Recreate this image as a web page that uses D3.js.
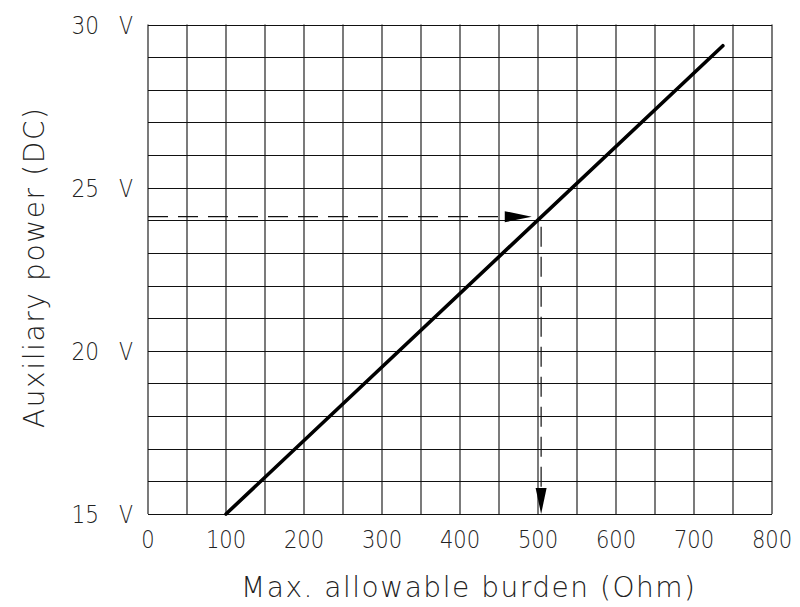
<!DOCTYPE html>
<html>
<head>
<meta charset="utf-8">
<script src="https://cdn.jsdelivr.net/npm/d3@7"></script>
<style>
  html, body { margin: 0; padding: 0; background: #fff; }
  text { font-family: "DejaVu Sans", sans-serif; font-weight: 200; fill: #222; }
</style>
</head>
<body>
<svg id="chart" width="800" height="607"></svg>
<script>
// ---- data ----
const xTicks = [0, 100, 200, 300, 400, 500, 600, 700, 800];
const xGrid = [0, 50, 100, 150, 200, 250, 300, 350, 400, 450, 500, 550, 600, 650, 700, 750, 800];
const yTicks = [15, 20, 25, 30];
const yGrid = [15, 16, 17, 18, 19, 20, 21, 22, 23, 24, 25, 26, 27, 28, 29, 30];
const lineBurden = [100, 737];
const lineVoltage = [15, 29.35];
const refVoltage = 24.11;
const refBurdenTip = 492;
const refBurdenDrop = 504;
const xTitle = "Max. allowable burden (Ohm)";
const yTitle = "Auxiliary power (DC)";

// ---- layout ----
const svg = d3.select("#chart");
const x = d3.scaleLinear().domain([0, 800]).range([148, 772]);
const y = d3.scaleLinear().domain([15, 30]).range([514, 24.5]);

// grid
const g = svg.append("g");
g.selectAll("line.v").data(xGrid).join("line")
  .attr("x1", d => x(d)).attr("x2", d => x(d))
  .attr("y1", y(15)).attr("y2", y(30))
  .attr("stroke", "#333").attr("stroke-width", 1.3);
g.selectAll("line.h").data(yGrid).join("line")
  .attr("x1", x(0)).attr("x2", x(800))
  .attr("y1", d => Math.round(y(d)) + 0.5).attr("y2", d => Math.round(y(d)) + 0.5)
  .attr("stroke", "#111").attr("stroke-width", 1.2);

// x tick labels
svg.selectAll("text.xt").data(xTicks).join("text")
  .attr("x", d => x(d)).attr("y", 548)
  .attr("text-anchor", "middle")
  .attr("font-size", 25)
  .attr("textLength", d => String(d).length * 13.4)
  .attr("lengthAdjust", "spacingAndGlyphs")
  .text(d => d);

// y tick labels
const yl = svg.selectAll("g.yt").data(yTicks).join("g");
yl.append("text")
  .attr("x", 99).attr("y", d => y(d)).attr("dy", "0.36em")
  .attr("text-anchor", "end").attr("font-size", 25)
  .attr("textLength", 27.5).attr("lengthAdjust", "spacingAndGlyphs")
  .text(d => d);
yl.append("text")
  .attr("x", 133).attr("y", d => y(d)).attr("dy", "0.36em")
  .attr("text-anchor", "end").attr("font-size", 25)
  .attr("textLength", 14).attr("lengthAdjust", "spacingAndGlyphs")
  .text("V");

// dashed reference lines
svg.append("line")
  .attr("x1", x(0)).attr("x2", x(refBurdenTip) - 24)
  .attr("y1", y(refVoltage)).attr("y2", y(refVoltage))
  .attr("stroke", "#111").attr("stroke-width", 1.2)
  .attr("stroke-dasharray", "20,10");
svg.append("line")
  .attr("x1", x(refBurdenDrop)).attr("x2", x(refBurdenDrop))
  .attr("y1", y(refVoltage) + 10).attr("y2", y(15) - 24)
  .attr("stroke", "#111").attr("stroke-width", 1.2)
  .attr("stroke-dasharray", "20,10");

// arrowheads
const hx = x(refBurdenTip), hy = y(refVoltage);
svg.append("path")
  .attr("d", `M${hx},${hy} L${hx - 27},${hy - 5.5} L${hx - 27},${hy + 5.5} Z`)
  .attr("fill", "#000");
const vx = x(refBurdenDrop), vy = y(15);
svg.append("path")
  .attr("d", `M${vx},${vy} L${vx - 5.5},${vy - 26} L${vx + 5.5},${vy - 26} Z`)
  .attr("fill", "#000");

// main line
const lineData = lineBurden.map((b, i) => [b, lineVoltage[i]]);
svg.append("path")
  .datum(lineData)
  .attr("d", d3.line().x(d => x(d[0])).y(d => y(d[1])))
  .attr("fill", "none").attr("stroke", "#000").attr("stroke-width", 3.6)
  .attr("stroke-linecap", "round");

// axis titles
svg.append("text")
  .attr("x", 468).attr("y", 597)
  .attr("text-anchor", "middle").attr("font-size", 28)
  .attr("textLength", 454).attr("lengthAdjust", "spacing")
  .text(xTitle);
svg.append("text")
  .attr("transform", "translate(44,268) rotate(-90)")
  .attr("text-anchor", "middle").attr("font-size", 28)
  .attr("textLength", 320).attr("lengthAdjust", "spacing")
  .text(yTitle);
</script>
</body>
</html>
